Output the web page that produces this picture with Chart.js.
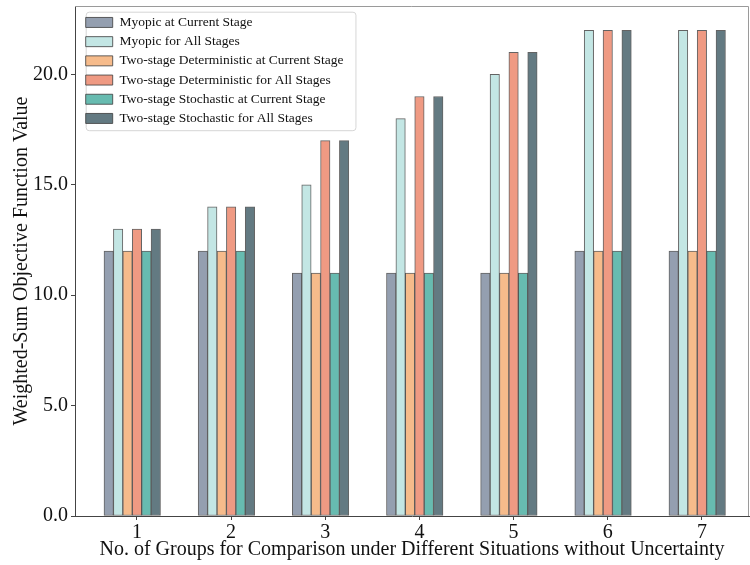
<!DOCTYPE html>
<html>
<head>
<meta charset="utf-8">
<script src="https://cdn.jsdelivr.net/npm/chart.js@4/dist/chart.umd.min.js"></script>
<style>
  body { margin: 0; background: #fff; }
  #wrap { width: 750px; height: 565px; }
</style>
</head>
<body>
<div id="wrap"><canvas id="groupChart" width="750" height="565"></canvas></div>
<script>
// groups on the x axis and tick values
const groups = [1, 2, 3, 4, 5, 6, 7];
const yTicks = [0, 5, 10, 15, 20];

// one array per strategy
const myopicCurrent = [12, 12, 11, 11, 11, 12, 12];
const myopicAll = [13, 14, 15, 18, 20, 22, 22];
const detCurrent = [12, 12, 11, 11, 11, 12, 12];
const detAll = [13, 14, 17, 19, 21, 22, 22];
const stochCurrent = [12, 12, 11, 11, 11, 12, 12];
const stochAll = [13, 14, 17, 19, 21, 22, 22];

const seriesNames = [
  'Myopic at Current Stage',
  'Myopic for All Stages',
  'Two-stage Deterministic at Current Stage',
  'Two-stage Deterministic for All Stages',
  'Two-stage Stochastic at Current Stage',
  'Two-stage Stochastic for All Stages'
];
const seriesValues = [myopicCurrent, myopicAll, detCurrent, detAll, stochCurrent, stochAll];
const colors = ['#949fb0', '#c3e6e4', '#f6bb8b', '#ef9a83', '#67bbb0', '#637a82'];

const barWidth = 0.1; // bar width in x units, tick sits on the 4th bar

const serif = 'Liberation Serif, Times New Roman, serif';

const datasets = seriesNames.map((name, k) => ({
  label: name,
  data: seriesValues[k].map((v, i) => ({ x: groups[i] + (k - 3) * barWidth, y: v })),
  backgroundColor: colors[k],
  borderColor: 'rgba(60,60,60,0.8)',
  borderWidth: 1,
  borderSkipped: false,
  grouped: false,
  barPercentage: 1,
  categoryPercentage: 1
}));

// move legend inside plot, draw its frame and the top/right spines
const framePlugin = {
  id: 'framePlugin',
  afterLayout(chart) {
    const lg = chart.legend;
    if (!lg) return;
    const newLeft = chart.chartArea.left + 5;
    const newTop = chart.chartArea.top + 4;
    const dx = newLeft - lg.left;
    const dy = newTop - lg.top;
    lg.left = newLeft;
    lg.top = newTop;
    lg.legendHitBoxes.forEach(b => { b.left += dx; b.top += dy; });
  },
  beforeDraw(chart) {
    const boxes = chart.legend && chart.legend.legendHitBoxes;
    if (!boxes || !boxes.length) return;
    const ctx = chart.ctx;
    const left = Math.min(...boxes.map(b => b.left)) - 5;
    const top = boxes[0].top - 4;
    const right = Math.max(...boxes.map(b => b.left + b.width)) + 7;
    const last = boxes[boxes.length - 1];
    const bottom = last.top + last.height + 5;
    ctx.save();
    ctx.beginPath();
    ctx.roundRect(left + 0.5, top + 0.5, right - left, bottom - top, 3);
    ctx.fillStyle = 'rgba(255,255,255,0.8)';
    ctx.fill();
    ctx.strokeStyle = '#d6d6d6';
    ctx.lineWidth = 1;
    ctx.stroke();
    ctx.restore();
  },
  afterDraw(chart) {
    const { ctx, chartArea } = chart;
    ctx.save();
    ctx.strokeStyle = '#9a9a9a';
    ctx.lineWidth = 1;
    ctx.beginPath();
    ctx.moveTo(chartArea.left, chartArea.top + 0.5);
    ctx.lineTo(chartArea.right - 0.5, chartArea.top + 0.5);
    ctx.lineTo(chartArea.right - 0.5, chartArea.bottom);
    ctx.stroke();
    ctx.restore();
  }
};

new Chart(document.getElementById('groupChart').getContext('2d'), {
  type: 'bar',
  data: { datasets },
  options: {
    responsive: false,
    animation: false,
    layout: { padding: { top: 6, right: 1, left: 0, bottom: 0 } },
    plugins: {
      tooltip: { enabled: false },
      legend: {
        position: 'chartArea',
        align: 'start',
        labels: {
          font: { family: serif, size: 13.5 },
          color: '#111',
          boxWidth: 27,
          boxHeight: 10,
          padding: 5.7
        }
      }
    },
    scales: {
      x: {
        type: 'linear',
        min: 0.342,
        max: 7.5,
        offset: false,
        afterFit: s => { s.height = 49; s.paddingLeft = 0; s.paddingRight = 0; },
        afterBuildTicks: s => { s.ticks = groups.map(v => ({ value: v })); },
        border: { display: true, color: '#444', width: 1 },
        grid: { display: true, offset: false, drawOnChartArea: false, drawTicks: true, tickLength: 4, color: '#444' },
        ticks: {
          font: { family: serif, size: 20 },
          color: '#111',
          padding: 1,
          maxRotation: 0,
          callback: v => String(v)
        },
        title: {
          display: true,
          text: 'No. of Groups for Comparison under Different Situations without Uncertainty',
          font: { family: serif, size: 20 },
          color: '#111',
          padding: { top: 0, bottom: 3 }
        }
      },
      y: {
        min: 0,
        max: 23.1,
        afterFit: s => { s.width = 75; s.paddingTop = 0; s.paddingBottom = 0; },
        afterBuildTicks: s => { s.ticks = yTicks.map(v => ({ value: v })); },
        border: { display: true, color: '#444', width: 1 },
        grid: { display: true, drawOnChartArea: false, drawTicks: true, tickLength: 4, color: '#444' },
        ticks: {
          font: { family: serif, size: 20 },
          color: '#111',
          padding: 3,
          callback: v => v.toFixed(1)
        },
        title: {
          display: true,
          text: 'Weighted-Sum Objective Function Value',
          font: { family: serif, size: 20 },
          color: '#111',
          padding: { top: 10, bottom: 0 }
        }
      }
    }
  },
  plugins: [framePlugin]
});
</script>
</body>
</html>
